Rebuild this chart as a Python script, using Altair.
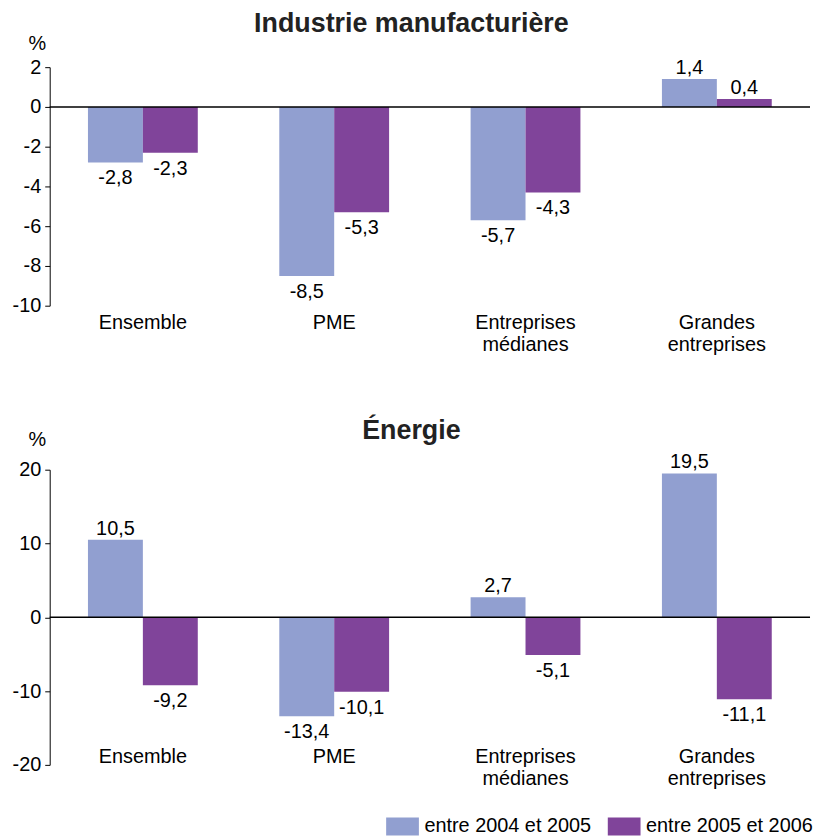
import altair as alt
import pandas as pd

categories = ["Ensemble", "PME", "Entreprises|médianes", "Grandes|entreprises"]
series = ["entre 2004 et 2005", "entre 2005 et 2006"]
industrie_2004_2005 = [-2.8, -8.5, -5.7, 1.4]
industrie_2005_2006 = [-2.3, -5.3, -4.3, 0.4]
energie_2004_2005 = [10.5, -13.4, 2.7, 19.5]
energie_2005_2006 = [-9.2, -10.1, -5.1, -11.1]
ticks_industrie = [-10, -8, -6, -4, -2, 0, 2]
ticks_energie = [-20, -10, 0, 10, 20]
colors = ["#919fd0", "#80449a"]

FONT = "Liberation Sans"
FS = 20


def frame(a, b):
    rows = []
    for c, v1, v2 in zip(categories, a, b):
        rows.append(dict(cat=c, serie=series[0], value=v1))
        rows.append(dict(cat=c, serie=series[1], value=v2))
    df = pd.DataFrame(rows)
    df["label"] = df["value"].map(lambda v: f"{v:.1f}".replace(".", ","))
    return df


legend = alt.Legend(title=None, orient="none", legendX=345, legendY=754,
                    direction="horizontal",
                    symbolType="M-1.83,-1H1.83V1H-1.83Z", symbolSize=324,
                    symbolStrokeWidth=0, symbolOpacity=1, labelFontSize=FS,
                    labelFont=FONT, labelColor="black", labelOffset=12,
                    labelLimit=400, columnPadding=16, padding=0)


def panel(df, title, ticks, height, x_offset, pct_y, title_offset):
    yscale = alt.Scale(domain=[ticks[0], ticks[-1]], nice=False, zero=False)
    yaxis = alt.Axis(values=ticks, grid=False, domainColor="black", tickColor="black",
                     tickSize=5, labelFontSize=FS, labelFont=FONT, labelColor="black",
                     labelPadding=4, labelExpr="'' + datum.value",
                     title="%", titleAngle=0, titleX=-13, titleY=pct_y,
                     titleAlign="center", titleBaseline="bottom", titleFontSize=FS,
                     titleFont=FONT, titleFontWeight="normal", titleColor="black")
    x = alt.X("cat:N", sort=categories, title=None,
              scale=alt.Scale(paddingInner=0.426, paddingOuter=0.2),
              axis=alt.Axis(domain=False, ticks=False, labelExpr="split(datum.label, '|')",
                            labelFontSize=FS, labelFont=FONT, labelColor="black",
                            labelPadding=5, offset=x_offset, labelLineHeight=22,
                            labelAngle=0))
    xo = alt.XOffset("serie:N", sort=series, scale=alt.Scale(paddingInner=0, paddingOuter=0))
    color = alt.Color("serie:N", scale=alt.Scale(domain=series, range=colors), legend=legend)
    base = alt.Chart(df)
    bars = base.mark_bar().encode(
        x=x, xOffset=xo, y=alt.Y("value:Q", scale=yscale, axis=yaxis), color=color)
    pos = base.transform_filter("datum.value >= 0").mark_text(
        baseline="bottom", dy=-1, fontSize=FS, font=FONT, color="black").encode(
        x=x, xOffset=xo, y=alt.Y("value:Q", scale=yscale, axis=yaxis), text="label:N")
    neg = base.transform_filter("datum.value < 0").mark_text(
        baseline="top", dy=6, fontSize=FS, font=FONT, color="black").encode(
        x=x, xOffset=xo, y=alt.Y("value:Q", scale=yscale, axis=yaxis), text="label:N")
    zero = alt.Chart(pd.DataFrame({"z": [0]})).mark_rule(color="black", strokeWidth=1.5).encode(
        y=alt.Y("z:Q", scale=yscale, axis=yaxis))
    return alt.layer(bars, zero, pos, neg).properties(
        width=765, height=height,
        title=alt.TitleParams(title, fontSize=27, font=FONT, fontWeight="bold",
                              color="#222222", anchor="middle", frame="bounds",
                              offset=title_offset))


top = panel(frame(industrie_2004_2005, industrie_2005_2006), "Industrie manufacturière",
            ticks_industrie, 240, 2, -14, -5)
bottom = panel(frame(energie_2004_2005, energie_2005_2006), "Énergie",
               ticks_energie, 297, -23, -20, -15)

chart = alt.vconcat(top, bottom, spacing=63).properties(
    padding={"left": 12, "top": 8, "right": 0, "bottom": 0}
).configure_view(stroke=None)

chart.save("out.html", embed_options={"renderer": "svg", "actions": False})
